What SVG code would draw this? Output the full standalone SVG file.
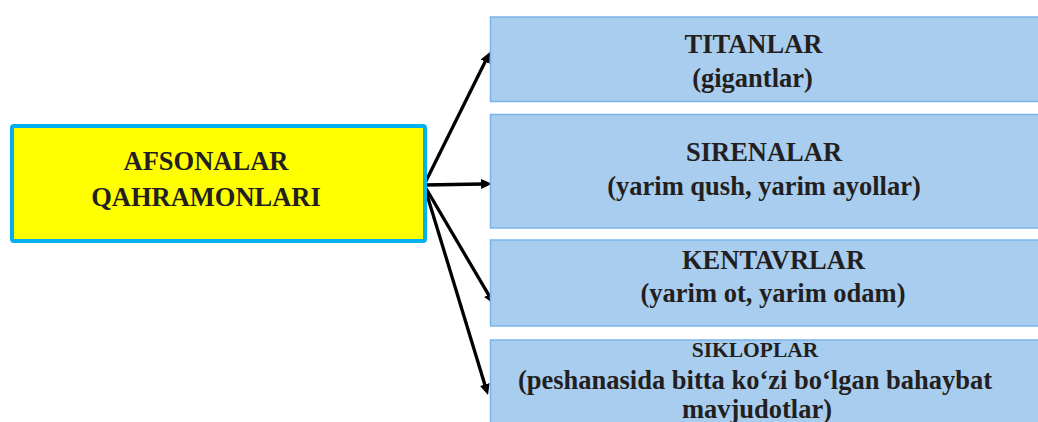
<svg xmlns="http://www.w3.org/2000/svg" width="1038" height="422" viewBox="0 0 1038 422">
<style>
.t{font-family:"Liberation Serif","Times New Roman",serif;font-weight:bold;fill:#231f20;text-anchor:middle;font-size:26.5px}
.s{font-size:21.5px}
.box{fill:#a9cdef;stroke:#7ab4ea;stroke-width:1.5}
.main{fill:#ffff00;stroke:#00b0f0;stroke-width:4}
.c{stroke:#000;stroke-width:3.3;fill:none;marker-end:url(#ah)}
</style>
<defs>
<marker id="ah" markerUnits="userSpaceOnUse" markerWidth="12" markerHeight="10" refX="2" refY="5" orient="auto">
<path d="M0,0 L11,5 L0,10 z" fill="#000"/>
</marker>
</defs>
<rect width="1038" height="422" fill="#fff"/>
<g id="connectors">
<line class="c" x1="424" y1="185" x2="486" y2="60"/>
<line class="c" x1="424" y1="185" x2="483" y2="184"/>
<line class="c" x1="424" y1="185" x2="489.4" y2="296.2"/>
<line class="c" x1="424" y1="185" x2="485.4" y2="386.4"/>
</g>
<g id="afsonalar">
<rect class="main" x="12" y="126" width="413" height="115" rx="2"/>
<text class="t" x="206" y="170">AFSONALAR</text>
<text class="t" x="206" y="206">QAHRAMONLARI</text>
</g>
<g id="titanlar">
<rect class="box" x="490.5" y="17" width="560" height="84.5"/>
<text class="t" x="753.5" y="52.5">TITANLAR</text>
<text class="t" x="752.5" y="87">(gigantlar)</text>
</g>
<g id="sirenalar">
<rect class="box" x="490.5" y="114.5" width="560" height="113.5"/>
<text class="t" x="764" y="161">SIRENALAR</text>
<text class="t" x="764" y="195">(yarim qush, yarim ayollar)</text>
</g>
<g id="kentavrlar">
<rect class="box" x="490.5" y="240" width="560" height="86"/>
<text class="t" x="773.5" y="269">KENTAVRLAR</text>
<text class="t" x="773" y="302">(yarim ot, yarim odam)</text>
</g>
<g id="sikloplar">
<rect class="box" x="490.5" y="340" width="560" height="90"/>
<text class="t s" x="755" y="357">SIKLOPLAR</text>
<text class="t" x="755" y="389">(peshanasida bitta ko‘zi bo‘lgan bahaybat</text>
<text class="t" x="757" y="418">mavjudotlar)</text>
</g>
</svg>
